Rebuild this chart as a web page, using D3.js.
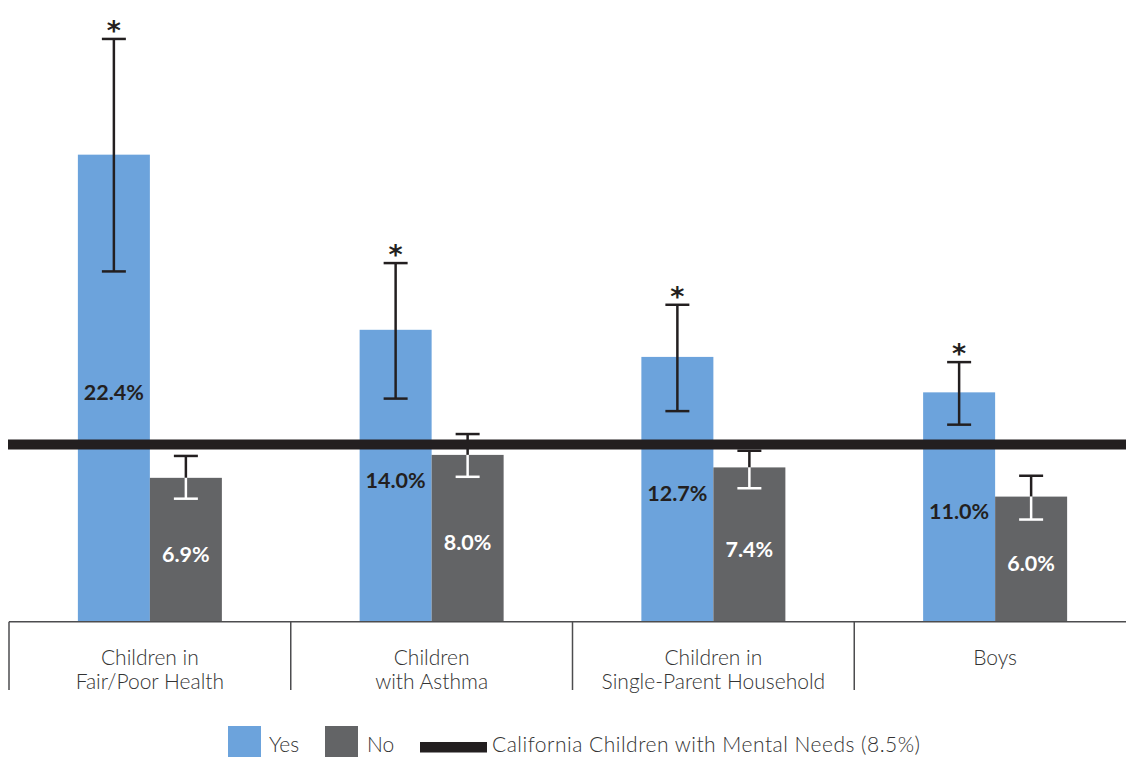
<!DOCTYPE html>
<html>
<head>
<meta charset="utf-8">
<script src="https://cdn.jsdelivr.net/npm/d3@7"></script>
<style>
  html, body { margin: 0; padding: 0; background: #fff; }
  svg { display: block; font-family: Lato, "Open Sans", sans-serif; }
</style>
</head>
<body>
<svg id="chart" width="1126" height="757"></svg>
<script>
// ---- data ----
const categories = ["Children in\nFair/Poor Health", "Children\nwith Asthma", "Children in\nSingle-Parent Household", "Boys"];
const yesValues = [22.4, 14.0, 12.7, 11.0];
const noValues = [6.9, 8.0, 7.4, 6.0];
const yesLow = [16.8, 10.7, 10.1, 9.45];
const yesHigh = [27.95, 17.2, 15.2, 12.45];
const noLow = [5.9, 6.95, 6.4, 4.9];
const noHigh = [7.95, 9.0, 8.2, 7.0];
const significant = [true, true, true, true];
const referenceValue = 8.5;
const referenceLabel = "California Children with Mental Needs (8.5%)";
const seriesNames = ["Yes", "No"];

const colors = { Yes: "#6ca3dc", No: "#636466", dark: "#231f20", text: "#333" };

const svg = d3.select("#chart");
const baseY = 621.7;
const pxPer = 20.85;
const y = d3.scaleLinear().domain([0, 28]).range([baseY, baseY - 28 * pxPer]);
const x = d3.scaleBand().domain(categories).range([9, 1136]).padding(0);
const xs = d3.scaleBand().domain(seriesNames).range([0, 144]).padding(0);

const rows = categories.map((c, i) => ({
  cat: c, i,
  vals: [
    { s: "Yes", v: yesValues[i], lo: yesLow[i], hi: yesHigh[i] },
    { s: "No", v: noValues[i], lo: noLow[i], hi: noHigh[i] }
  ]
}));
const gx = c => x(c) + x.bandwidth() / 2 - 72;

// bars
const groups = svg.append("g").selectAll("g").data(rows).join("g")
  .attr("transform", d => `translate(${gx(d.cat)},0)`);

groups.selectAll("rect").data(d => d.vals).join("rect")
  .attr("x", d => xs(d.s))
  .attr("width", xs.bandwidth())
  .attr("y", d => y(d.v))
  .attr("height", d => baseY - y(d.v))
  .attr("fill", d => colors[d.s]);

// error bars
const capW = 12;
groups.each(function(d) {
  const g = d3.select(this);
  d.vals.forEach(v => {
    const cx = xs(v.s) + xs.bandwidth() / 2;
    const yh = y(v.hi), yl = y(v.lo), yt = y(v.v);
    const eb = g.append("g").attr("stroke-width", 2.5).attr("fill", "none");
    if (v.s === "Yes") {
      eb.append("line").attr("x1", cx).attr("x2", cx).attr("y1", yh).attr("y2", yl).attr("stroke", colors.dark);
      eb.append("line").attr("x1", cx - capW).attr("x2", cx + capW).attr("y1", yh).attr("y2", yh).attr("stroke", colors.dark);
      eb.append("line").attr("x1", cx - capW).attr("x2", cx + capW).attr("y1", yl).attr("y2", yl).attr("stroke", colors.dark);
    } else {
      eb.append("line").attr("x1", cx).attr("x2", cx).attr("y1", yh).attr("y2", Math.min(yt, yl)).attr("stroke", colors.dark);
      eb.append("line").attr("x1", cx).attr("x2", cx).attr("y1", Math.max(yt, yh)).attr("y2", yl).attr("stroke", "#fff");
      eb.append("line").attr("x1", cx - capW).attr("x2", cx + capW).attr("y1", yh).attr("y2", yh).attr("stroke", yh < yt ? colors.dark : "#fff");
      eb.append("line").attr("x1", cx - capW).attr("x2", cx + capW).attr("y1", yl).attr("y2", yl).attr("stroke", yl < yt ? colors.dark : "#fff");
    }
  });
  // significance star above Yes
  if (significant[d.i]) {
    g.append("text")
      .attr("x", xs("Yes") + xs.bandwidth() / 2)
      .attr("y", y(d.vals[0].hi) + 1)
      .attr("text-anchor", "middle")
      .attr("font-family", "'DejaVu Sans', sans-serif")
      .attr("font-size", 27).attr("font-weight", 700)
      .attr("fill", colors.dark)
      .text("*");
  }
});

// value labels
groups.selectAll("text.val").data(d => d.vals).join("text")
  .attr("class", "val")
  .attr("x", d => xs(d.s) + xs.bandwidth() / 2)
  .attr("y", d => (y(d.v) + baseY) / 2 + 12)
  .attr("text-anchor", "middle")
  .attr("font-size", 21.5).attr("font-weight", 700)
  .attr("fill", d => d.s === "Yes" ? colors.dark : "#fff")
  .text(d => d.v.toFixed(1) + "%");

// reference line
svg.append("line")
  .attr("x1", 8).attr("x2", 1126)
  .attr("y1", y(referenceValue)).attr("y2", y(referenceValue))
  .attr("stroke", colors.dark).attr("stroke-width", 10);

// category axis
svg.append("line").attr("x1", 9).attr("x2", 1126).attr("y1", baseY).attr("y2", baseY)
  .attr("stroke", "#4d4d4f").attr("stroke-width", 1.5);
svg.append("g").selectAll("line").data(categories).join("line")
  .attr("x1", d => x(d)).attr("x2", d => x(d))
  .attr("y1", baseY).attr("y2", 690)
  .attr("stroke", "#4d4d4f").attr("stroke-width", 1.5);

const catText = svg.append("g").selectAll("text").data(categories).join("text")
  .attr("text-anchor", "middle")
  .attr("font-size", 21).attr("font-weight", 300)
  .attr("fill", colors.text);
catText.each(function(d) {
  const t = d3.select(this);
  d.split("\n").forEach((line, k) => {
    t.append("tspan").attr("x", x(d) + x.bandwidth() / 2).attr("y", 665 + k * 24).text(line);
  });
});

// legend
const lg = svg.append("g").attr("font-size", 21).attr("font-weight", 300).attr("fill", colors.text);
lg.append("rect").attr("x", 228).attr("y", 726).attr("width", 33).attr("height", 31).attr("fill", colors.Yes);
lg.append("text").attr("x", 269).attr("y", 752).text(seriesNames[0]);
lg.append("rect").attr("x", 325).attr("y", 726).attr("width", 33).attr("height", 31).attr("fill", colors.No);
lg.append("text").attr("x", 367).attr("y", 752).text(seriesNames[1]);
lg.append("rect").attr("x", 420).attr("y", 742).attr("width", 67).attr("height", 10.5).attr("fill", colors.dark);
lg.append("text").attr("x", 492).attr("y", 752).attr("textLength", 428).text(referenceLabel);
</script>
</body>
</html>
